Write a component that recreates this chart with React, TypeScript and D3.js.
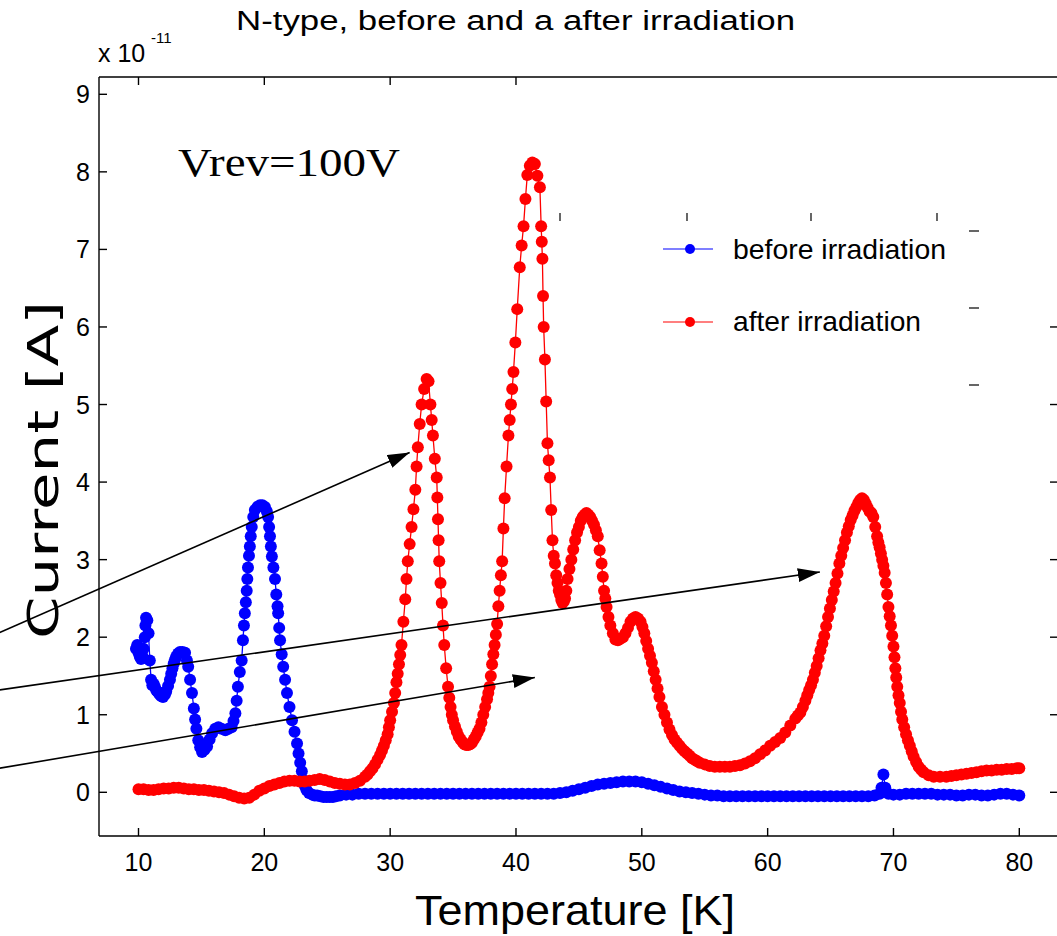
import React from 'react';
import * as d3 from 'd3';

// Temperature [K], current [x 1e-11 A]
const before: [number, number][] = [
  [9.8, 1.85], [9.9, 1.9], [10.0, 1.8], [10.1, 1.75], [10.2, 1.72], [10.3, 1.76], [10.4, 1.85],
  [10.5, 2.0], [10.55, 2.15], [10.6, 2.25], [10.7, 2.22], [10.8, 2.05], [10.9, 1.7], [11.0, 1.45],
  [11.1, 1.38], [11.2, 1.4], [11.3, 1.36], [11.4, 1.32], [11.5, 1.3], [11.6, 1.28], [11.7, 1.26],
  [11.8, 1.24], [11.95, 1.23], [12.1, 1.26], [12.2, 1.3], [12.35, 1.37], [12.5, 1.45], [12.6, 1.53],
  [12.7, 1.6], [12.8, 1.66], [12.9, 1.71], [13.0, 1.75], [13.15, 1.79], [13.3, 1.81], [13.5, 1.81],
  [13.7, 1.8], [13.85, 1.7], [13.95, 1.62], [14.1, 1.45], [14.25, 1.28], [14.4, 1.08], [14.5, 0.94],
  [14.6, 0.82], [14.75, 0.67], [14.9, 0.58], [15.05, 0.52], [15.25, 0.55], [15.45, 0.59],
  [15.65, 0.68], [15.85, 0.76], [16.1, 0.82], [16.35, 0.84], [16.6, 0.82], [16.9, 0.8],
  [17.15, 0.82], [17.4, 0.84], [17.55, 0.92], [17.7, 1.02], [17.8, 1.18], [17.9, 1.36],
  [18.05, 1.55], [18.2, 1.7], [18.3, 1.96], [18.38, 2.15], [18.45, 2.31], [18.53, 2.45],
  [18.6, 2.6], [18.65, 2.75], [18.7, 2.9], [18.78, 3.05], [18.85, 3.17], [18.92, 3.3], [19.0, 3.42],
  [19.12, 3.55], [19.25, 3.64], [19.45, 3.68], [19.65, 3.7], [19.85, 3.7], [20.05, 3.68],
  [20.2, 3.62], [20.3, 3.55], [20.38, 3.42], [20.45, 3.3], [20.52, 3.17], [20.6, 3.04],
  [20.72, 2.9], [20.85, 2.75], [20.95, 2.55], [21.05, 2.4], [21.1, 2.31], [21.18, 2.12],
  [21.25, 1.96], [21.38, 1.78], [21.5, 1.62], [21.65, 1.45], [21.8, 1.28], [22.0, 1.1],
  [22.2, 0.93], [22.4, 0.78], [22.6, 0.63], [22.72, 0.5], [22.85, 0.38], [22.98, 0.27],
  [23.1, 0.16], [23.22, 0.08], [23.35, 0.03], [23.55, -0.01], [23.8, -0.03], [24.0, -0.04],
  [24.2, -0.04], [24.45, -0.05], [24.7, -0.06], [24.95, -0.06], [25.2, -0.06], [25.45, -0.06],
  [25.7, -0.05], [26.0, -0.04], [26.5, -0.03], [27.0, -0.03], [27.5, -0.02], [28.0, -0.02],
  [28.5, -0.02], [29.0, -0.02], [29.5, -0.02], [30.0, -0.02], [30.5, -0.02], [31.0, -0.02],
  [31.5, -0.02], [32.0, -0.02], [32.5, -0.02], [33.0, -0.02], [33.5, -0.02], [34.0, -0.02],
  [34.5, -0.02], [35.0, -0.02], [35.5, -0.02], [36.0, -0.02], [36.5, -0.02], [37.0, -0.02],
  [37.5, -0.02], [38.0, -0.02], [38.5, -0.02], [39.0, -0.02], [39.5, -0.02], [40.0, -0.02],
  [40.5, -0.02], [41.0, -0.02], [41.5, -0.02], [42.0, -0.02], [42.5, -0.02], [43.0, -0.02],
  [43.5, -0.01], [44.0, 0.0], [44.5, 0.02], [45.0, 0.04], [45.5, 0.06], [46.0, 0.08], [46.5, 0.1],
  [47.0, 0.11], [47.5, 0.12], [48.0, 0.13], [48.5, 0.14], [49.0, 0.14], [49.5, 0.14], [50.0, 0.13],
  [50.5, 0.11], [51.0, 0.09], [51.5, 0.07], [52.0, 0.05], [52.5, 0.03], [53.0, 0.01], [53.5, 0.0],
  [54.0, -0.01], [54.5, -0.02], [55.0, -0.03], [55.5, -0.04], [56.0, -0.04], [56.5, -0.05],
  [57.0, -0.05], [57.5, -0.05], [58.0, -0.05], [58.5, -0.05], [59.0, -0.05], [59.5, -0.05],
  [60.0, -0.05], [60.5, -0.05], [61.0, -0.05], [61.5, -0.05], [62.0, -0.05], [62.5, -0.05],
  [63.0, -0.05], [63.5, -0.05], [64.0, -0.05], [64.5, -0.05], [65.0, -0.05], [65.5, -0.05],
  [66.0, -0.05], [66.5, -0.05], [67.0, -0.05], [67.5, -0.05], [68.0, -0.05], [68.5, -0.04],
  [68.9, -0.02], [69.05, 0.06], [69.2, 0.23], [69.35, 0.06], [69.6, -0.02], [70.0, -0.03],
  [70.5, -0.03], [71.0, -0.02], [71.5, -0.02], [72.0, -0.02], [72.5, -0.02], [73.0, -0.02],
  [73.5, -0.03], [74.0, -0.03], [74.5, -0.03], [75.0, -0.04], [75.5, -0.04], [76.0, -0.03],
  [76.5, -0.03], [77.0, -0.04], [77.5, -0.04], [78.0, -0.03], [78.5, -0.02], [79.0, -0.02],
  [79.5, -0.03], [80.0, -0.04],
];

const after: [number, number][] = [
  [10.0, 0.04], [10.4, 0.04], [10.8, 0.03], [11.2, 0.03], [11.6, 0.04], [12.0, 0.05], [12.4, 0.05],
  [12.8, 0.06], [13.2, 0.06], [13.6, 0.05], [14.0, 0.04], [14.4, 0.04], [14.8, 0.03], [15.2, 0.03],
  [15.6, 0.02], [16.0, 0.01], [16.4, 0.0], [16.8, -0.01], [17.2, -0.03], [17.6, -0.05],
  [18.0, -0.07], [18.4, -0.08], [18.8, -0.07], [19.2, -0.03], [19.6, 0.02], [20.0, 0.05],
  [20.4, 0.08], [20.8, 0.1], [21.2, 0.12], [21.6, 0.14], [22.0, 0.15], [22.4, 0.15], [22.8, 0.14],
  [23.2, 0.14], [23.6, 0.15], [24.0, 0.16], [24.4, 0.17], [24.8, 0.16], [25.2, 0.14], [25.6, 0.12],
  [26.0, 0.11], [26.4, 0.1], [26.8, 0.1], [27.2, 0.12], [27.6, 0.15], [28.0, 0.2], [28.2, 0.23],
  [28.4, 0.27], [28.6, 0.31], [28.8, 0.36], [29.0, 0.42], [29.2, 0.48], [29.35, 0.54], [29.5, 0.6],
  [29.65, 0.67], [29.8, 0.75], [29.9, 0.84], [30.0, 0.93], [30.15, 1.04], [30.3, 1.15],
  [30.4, 1.28], [30.5, 1.42], [30.6, 1.53], [30.7, 1.65], [30.8, 1.77], [30.9, 1.9], [31.05, 2.2],
  [31.2, 2.49], [31.3, 2.75], [31.4, 2.98], [31.55, 3.2], [31.7, 3.42], [31.85, 3.65], [32.0, 3.9],
  [32.1, 4.2], [32.2, 4.45], [32.35, 4.75], [32.5, 5.0], [32.7, 5.2], [32.9, 5.33], [33.05, 5.3],
  [33.2, 5.0], [33.3, 4.8], [33.4, 4.6], [33.55, 4.3], [33.7, 4.06], [33.75, 3.8], [33.8, 3.52],
  [33.85, 3.25], [33.9, 2.98], [34.0, 2.7], [34.1, 2.44], [34.2, 2.15], [34.3, 1.9], [34.45, 1.6],
  [34.6, 1.36], [34.7, 1.22], [34.8, 1.1], [34.9, 1.0], [35.0, 0.93], [35.15, 0.85], [35.3, 0.78],
  [35.45, 0.72], [35.6, 0.68], [35.75, 0.65], [35.9, 0.62], [36.05, 0.61], [36.2, 0.61],
  [36.35, 0.62], [36.5, 0.64], [36.65, 0.68], [36.8, 0.72], [36.95, 0.77], [37.1, 0.82],
  [37.25, 0.9], [37.4, 1.0], [37.55, 1.1], [37.7, 1.2], [37.8, 1.28], [37.9, 1.36], [38.0, 1.5],
  [38.1, 1.65], [38.2, 1.78], [38.3, 1.9], [38.4, 2.03], [38.5, 2.17], [38.6, 2.4], [38.7, 2.6],
  [38.8, 2.8], [38.9, 2.98], [39.0, 3.4], [39.1, 3.79], [39.25, 4.2], [39.4, 4.6], [39.5, 4.8],
  [39.6, 5.0], [39.7, 5.2], [39.8, 5.42], [39.95, 5.8], [40.1, 6.23], [40.3, 6.77], [40.45, 7.05],
  [40.6, 7.3], [40.75, 7.65], [40.9, 7.96], [41.1, 8.08], [41.3, 8.12], [41.5, 8.1], [41.7, 7.95],
  [41.9, 7.8], [42.0, 7.3], [42.05, 7.1], [42.1, 6.88], [42.15, 6.4], [42.2, 6.0], [42.3, 5.58],
  [42.4, 5.04], [42.5, 4.5], [42.6, 4.28], [42.7, 4.06], [42.8, 3.64], [42.9, 3.25], [43.0, 3.05],
  [43.1, 2.95], [43.2, 2.8], [43.3, 2.7], [43.4, 2.6], [43.5, 2.55], [43.6, 2.48], [43.7, 2.44],
  [43.8, 2.46], [43.9, 2.5], [44.0, 2.6], [44.1, 2.75], [44.25, 2.88], [44.4, 3.0], [44.55, 3.13],
  [44.7, 3.25], [44.85, 3.35], [45.0, 3.42], [45.15, 3.5], [45.3, 3.55], [45.45, 3.58], [45.6, 3.6],
  [45.75, 3.58], [45.9, 3.55], [46.05, 3.5], [46.2, 3.45], [46.35, 3.38], [46.5, 3.3],
  [46.65, 3.12], [46.8, 2.95], [46.9, 2.78], [47.0, 2.6], [47.1, 2.5], [47.2, 2.39], [47.35, 2.26],
  [47.5, 2.15], [47.7, 2.05], [47.9, 1.97], [48.1, 1.96], [48.3, 1.98], [48.5, 2.0], [48.7, 2.05],
  [48.9, 2.12], [49.1, 2.2], [49.3, 2.24], [49.5, 2.26], [49.7, 2.24], [49.9, 2.2], [50.05, 2.13],
  [50.2, 2.05], [50.35, 1.95], [50.5, 1.85], [50.65, 1.76], [50.8, 1.67], [50.95, 1.56],
  [51.1, 1.45], [51.25, 1.34], [51.4, 1.23], [51.6, 1.1], [51.8, 1.0], [52.0, 0.9], [52.2, 0.81],
  [52.4, 0.74], [52.6, 0.68], [52.8, 0.64], [53.0, 0.6], [53.2, 0.56], [53.4, 0.53], [53.6, 0.5],
  [53.8, 0.47], [54.0, 0.44], [54.2, 0.42], [54.4, 0.4], [54.6, 0.38], [55.0, 0.36], [55.4, 0.34],
  [55.8, 0.33], [56.2, 0.33], [56.6, 0.33], [57.0, 0.33], [57.4, 0.34], [57.8, 0.35], [58.2, 0.37],
  [58.6, 0.4], [59.0, 0.44], [59.4, 0.49], [59.8, 0.54], [60.2, 0.6], [60.6, 0.65], [61.0, 0.7],
  [61.4, 0.77], [61.8, 0.86], [62.2, 0.95], [62.4, 0.99], [62.6, 1.03], [62.8, 1.1], [63.0, 1.18],
  [63.15, 1.25], [63.3, 1.32], [63.45, 1.38], [63.6, 1.45], [63.75, 1.54], [63.9, 1.63],
  [64.05, 1.73], [64.2, 1.83], [64.35, 1.92], [64.5, 2.02], [64.65, 2.14], [64.8, 2.26],
  [64.95, 2.37], [65.1, 2.48], [65.25, 2.59], [65.4, 2.7], [65.55, 2.82], [65.7, 2.95],
  [65.85, 3.05], [66.0, 3.15], [66.15, 3.25], [66.3, 3.35], [66.45, 3.43], [66.6, 3.51],
  [66.75, 3.57], [66.9, 3.63], [67.05, 3.68], [67.2, 3.73], [67.35, 3.77], [67.5, 3.79],
  [67.65, 3.77], [67.8, 3.72], [67.95, 3.67], [68.1, 3.62], [68.25, 3.6], [68.4, 3.55],
  [68.55, 3.42], [68.7, 3.3], [68.8, 3.22], [68.9, 3.16], [69.0, 3.08], [69.1, 3.0], [69.2, 2.92],
  [69.3, 2.83], [69.4, 2.7], [69.5, 2.55], [69.6, 2.39], [69.7, 2.27], [69.8, 2.15], [69.9, 2.02],
  [70.0, 1.88], [70.08, 1.74], [70.15, 1.6], [70.22, 1.48], [70.3, 1.36], [70.4, 1.25],
  [70.5, 1.15], [70.6, 1.04], [70.7, 0.94], [70.85, 0.84], [71.0, 0.75], [71.15, 0.67],
  [71.3, 0.6], [71.45, 0.53], [71.6, 0.46], [71.8, 0.39], [72.0, 0.33], [72.2, 0.29], [72.4, 0.26],
  [72.8, 0.22], [73.2, 0.2], [73.7, 0.2], [74.2, 0.2], [74.6, 0.21], [75.0, 0.22], [75.4, 0.23],
  [75.8, 0.24], [76.2, 0.25], [76.6, 0.26], [77.0, 0.27], [77.4, 0.28], [77.8, 0.28], [78.2, 0.29],
  [78.6, 0.29], [79.0, 0.3], [79.4, 0.3], [79.8, 0.31], [80.0, 0.31],
];

const xTicks = [10, 20, 30, 40, 50, 60, 70, 80];
const yTicks = [0, 1, 2, 3, 4, 5, 6, 7, 8, 9];
const topTicks = [10, 20, 30, 40];
const rightTicks = [0, 1, 2, 3, 4, 5, 6];

// annotation arrows, [fromT, fromI, toT, toI] in data units
const arrows: [number, number, number, number][] = [
  [-1.05, 2.06, 31.55, 4.38],
  [-1.05, 1.32, 64.15, 2.84],
  [-1.05, 0.31, 41.5, 1.48],
];

const sans = 'Liberation Sans, Arial, sans-serif';

export default function App() {
  const W = 1057;
  const H = 936;
  const left = 99, right = 1058, top = 77, bottom = 836;

  const x = d3.scaleLinear().domain([10, 80]).range([138.5, 1019.3]);
  const y = d3.scaleLinear().domain([0, 9]).range([792.3, 94.3]);

  const line = d3.line<[number, number]>()
    .x((d) => x(d[0]))
    .y((d) => y(d[1]));

  const series = [
    { name: 'before irradiation', data: before, color: '#0000ff', ly: 249, ty: 259, len: 213 },
    { name: 'after irradiation', data: after, color: '#ff0000', ly: 322, ty: 331, len: 188 },
  ];

  return (
    <svg width={W} height={H} style={{ position: 'absolute', left: 0, top: 0, background: '#fff' }}>
      <defs>
        <marker id="head" markerUnits="userSpaceOnUse" markerWidth="24" markerHeight="16"
          refX="22" refY="7" orient="auto">
          <path d="M0,0 L22,7 L0,14 Z" fill="#000" />
        </marker>
      </defs>

      {/* title */}
      <text x={236} y={30} fontFamily={sans} fontSize={27} textLength={559}
        lengthAdjust="spacingAndGlyphs">N-type, before and a after irradiation</text>

      {/* exponent */}
      <text x={98} y={62} fontFamily={sans} fontSize={25}>x 10</text>
      <text x={151} y={43} fontFamily={sans} fontSize={15}>-11</text>

      {/* axes box */}
      <g stroke="#000" strokeWidth={1.4} fill="none">
        <line x1={left} y1={top} x2={right} y2={top} />
        <line x1={left} y1={bottom} x2={right} y2={bottom} />
        <line x1={left} y1={top} x2={left} y2={bottom} />
        {xTicks.map((t) => (
          <line key={'xb' + t} x1={x(t)} x2={x(t)} y1={bottom} y2={bottom - 8} />
        ))}
        {topTicks.map((t) => (
          <line key={'xt' + t} x1={x(t)} x2={x(t)} y1={top} y2={top + 8} />
        ))}
        {yTicks.map((t) => (
          <line key={'yl' + t} x1={left} x2={left + 8} y1={y(t)} y2={y(t)} />
        ))}
        {rightTicks.map((t) => (
          <line key={'yr' + t} x1={right - 8} x2={right} y1={y(t)} y2={y(t)} />
        ))}
      </g>

      {/* leftover ticks of the pasted legend box */}
      <g stroke="#000" strokeWidth={1.2}>
        {[560, 687, 811, 937].map((px) => (
          <line key={'a' + px} x1={px} x2={px} y1={213} y2={221} />
        ))}
        {[231, 308, 385].map((py) => (
          <line key={'b' + py} x1={969} x2={979} y1={py} y2={py} />
        ))}
      </g>

      {/* tick labels */}
      <g fontFamily={sans} fontSize={25} fill="#000">
        {xTicks.map((t) => (
          <text key={'lx' + t} x={x(t)} y={871} textAnchor="middle">{t}</text>
        ))}
        {yTicks.map((t) => (
          <text key={'ly' + t} x={90} y={y(t) + 9} textAnchor="end">{t}</text>
        ))}
      </g>

      {/* axis labels */}
      <text x={575} y={925} fontFamily={sans} fontSize={42} textAnchor="middle" textLength={320}
        lengthAdjust="spacingAndGlyphs">Temperature [K]</text>
      <g transform="translate(58,470) rotate(-90) scale(1.42,1)">
        <text x={0} y={0} fontFamily="DejaVu Sans, sans-serif" fontSize={43}
          textAnchor="middle">Current [A]</text>
      </g>

      {/* series */}
      {series.map((s) => (
        <g key={s.name}>
          <path d={line(s.data) || ''} fill="none" stroke={s.color} strokeWidth={1.3} />
          {s.data.map((d, i) => (
            <circle key={i} cx={x(d[0])} cy={y(d[1])} r={6} fill={s.color} />
          ))}
        </g>
      ))}

      {/* annotation */}
      <text x={178} y={176} fontFamily="Liberation Serif, Times New Roman, serif" fontSize={40}
        textLength={222} lengthAdjust="spacingAndGlyphs">Vrev=100V</text>
      {arrows.map((a, i) => (
        <line key={'ar' + i} x1={x(a[0])} y1={y(a[1])} x2={x(a[2])} y2={y(a[3])}
          stroke="#000" strokeWidth={1.6} markerEnd="url(#head)" />
      ))}

      {/* legend */}
      {series.map((s) => (
        <g key={'lg' + s.name}>
          <line x1={663} x2={713} y1={s.ly} y2={s.ly} stroke={s.color} strokeWidth={1.2} />
          <circle cx={690} cy={s.ly} r={5} fill={s.color} />
          <text x={733} y={s.ty} fontFamily={sans} fontSize={28} textLength={s.len}
            lengthAdjust="spacingAndGlyphs">{s.name}</text>
        </g>
      ))}
    </svg>
  );
}
